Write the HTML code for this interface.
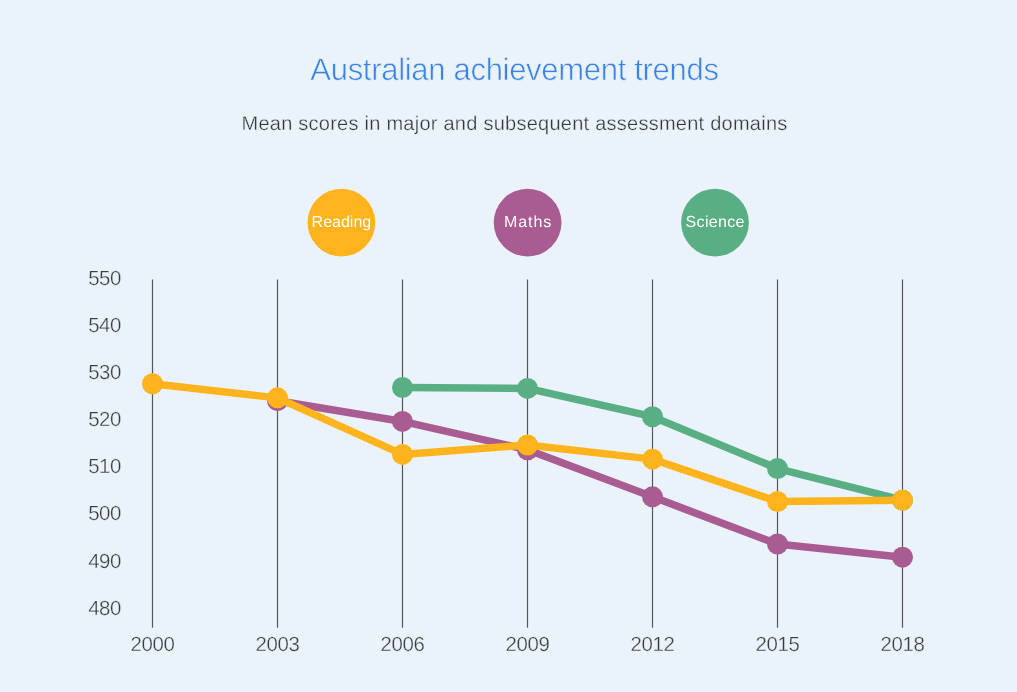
<!DOCTYPE html>
<html><head><meta charset="utf-8"><title>Australian achievement trends</title>
<style>
html,body{margin:0;padding:0;}
body{width:1017px;height:692px;background:#EAF2FC;overflow:hidden;font-family:"Liberation Sans",sans-serif;}
svg{position:absolute;left:0;top:0;display:block;will-change:transform;}
text{font-family:"Liberation Sans",sans-serif;text-rendering:geometricPrecision;}
.title{font-size:31px;fill:#3A82E6;letter-spacing:-0.3px;stroke:#EAF2FC;stroke-width:0.6px;}
.sub{font-size:20px;fill:#38383a;letter-spacing:0.25px;stroke:#EAF2FC;stroke-width:0.3px;}
.ax{font-size:20.4px;letter-spacing:-0.4px;fill:#3e3e40;stroke:#EAF2FC;stroke-width:0.3px;}
.lg{font-size:16px;fill:#ffffff;letter-spacing:-0.25px;}
</style></head><body>
<svg width="1017" height="692" viewBox="0 0 1017 692">
<text class="title" x="514.5" y="80" text-anchor="middle">Australian achievement trends</text>
<text class="sub" x="514.5" y="129.7" text-anchor="middle">Mean scores in major and subsequent assessment domains</text>
<rect x="151.9" y="279.5" width="1.2" height="348.2" fill="#56575a"/>
<rect x="276.9" y="279.5" width="1.2" height="348.2" fill="#56575a"/>
<rect x="401.9" y="279.5" width="1.2" height="348.2" fill="#56575a"/>
<rect x="526.9" y="279.5" width="1.2" height="348.2" fill="#56575a"/>
<rect x="651.9" y="279.5" width="1.2" height="348.2" fill="#56575a"/>
<rect x="776.9" y="279.5" width="1.2" height="348.2" fill="#56575a"/>
<rect x="901.9" y="279.5" width="1.2" height="348.2" fill="#56575a"/>
<polyline fill="none" stroke="#59AF83" stroke-width="7.5" stroke-linejoin="round" stroke-linecap="round" points="402.5,387.49 527.5,388.43 652.5,416.71 777.5,468.57 902.5,500.16"/>
<circle cx="402.5" cy="387.49" r="10.5" fill="#59AF83"/>
<circle cx="527.5" cy="388.43" r="10.5" fill="#59AF83"/>
<circle cx="652.5" cy="416.71" r="10.5" fill="#59AF83"/>
<circle cx="777.5" cy="468.57" r="10.5" fill="#59AF83"/>
<circle cx="902.5" cy="500.16" r="10.5" fill="#59AF83"/>
<polyline fill="none" stroke="#A85C92" stroke-width="7.5" stroke-linejoin="round" stroke-linecap="round" points="277.5,400.69 402.5,421.43 527.5,449.71 652.5,496.86 777.5,544 902.5,557.2"/>
<circle cx="277.5" cy="400.69" r="10.5" fill="#A85C92"/>
<circle cx="402.5" cy="421.43" r="10.5" fill="#A85C92"/>
<circle cx="527.5" cy="449.71" r="10.5" fill="#A85C92"/>
<circle cx="652.5" cy="496.86" r="10.5" fill="#A85C92"/>
<circle cx="777.5" cy="544" r="10.5" fill="#A85C92"/>
<circle cx="902.5" cy="557.2" r="10.5" fill="#A85C92"/>
<polyline fill="none" stroke="#FFB31C" stroke-width="7.5" stroke-linejoin="round" stroke-linecap="round" points="152.5,383.71 277.5,397.86 402.5,454.43 527.5,445 652.5,459.14 777.5,501.57 902.5,500.16"/>
<circle cx="152.5" cy="383.71" r="10.5" fill="#FFB31C"/>
<circle cx="277.5" cy="397.86" r="10.5" fill="#FFB31C"/>
<circle cx="402.5" cy="454.43" r="10.5" fill="#FFB31C"/>
<circle cx="527.5" cy="445" r="10.5" fill="#FFB31C"/>
<circle cx="652.5" cy="459.14" r="10.5" fill="#FFB31C"/>
<circle cx="777.5" cy="501.57" r="10.5" fill="#FFB31C"/>
<circle cx="902.5" cy="500.16" r="10.5" fill="#FFB31C"/>
<text class="ax" x="121" y="284.7" text-anchor="end">550</text>
<text class="ax" x="121" y="331.843" text-anchor="end">540</text>
<text class="ax" x="121" y="378.986" text-anchor="end">530</text>
<text class="ax" x="121" y="426.129" text-anchor="end">520</text>
<text class="ax" x="121" y="473.271" text-anchor="end">510</text>
<text class="ax" x="121" y="520.414" text-anchor="end">500</text>
<text class="ax" x="121" y="567.557" text-anchor="end">490</text>
<text class="ax" x="121" y="614.7" text-anchor="end">480</text>
<text class="ax" x="152.5" y="650.7" text-anchor="middle">2000</text>
<text class="ax" x="277.5" y="650.7" text-anchor="middle">2003</text>
<text class="ax" x="402.5" y="650.7" text-anchor="middle">2006</text>
<text class="ax" x="527.5" y="650.7" text-anchor="middle">2009</text>
<text class="ax" x="652.5" y="650.7" text-anchor="middle">2012</text>
<text class="ax" x="777.5" y="650.7" text-anchor="middle">2015</text>
<text class="ax" x="902.5" y="650.7" text-anchor="middle">2018</text>
<circle cx="341.4" cy="222.6" r="33.9" fill="#FFB31C"/>
<text class="lg" x="341.4" y="227" text-anchor="middle" style="letter-spacing:0px">Reading</text>
<circle cx="527.6" cy="222.6" r="33.9" fill="#A85C92"/>
<text class="lg" x="528.075" y="227" text-anchor="middle" style="letter-spacing:0.95px">Maths</text>
<circle cx="715" cy="222.6" r="33.9" fill="#59AF83"/>
<text class="lg" x="715.165" y="227" text-anchor="middle" style="letter-spacing:0.33px">Science</text>
</svg>
</body></html>
